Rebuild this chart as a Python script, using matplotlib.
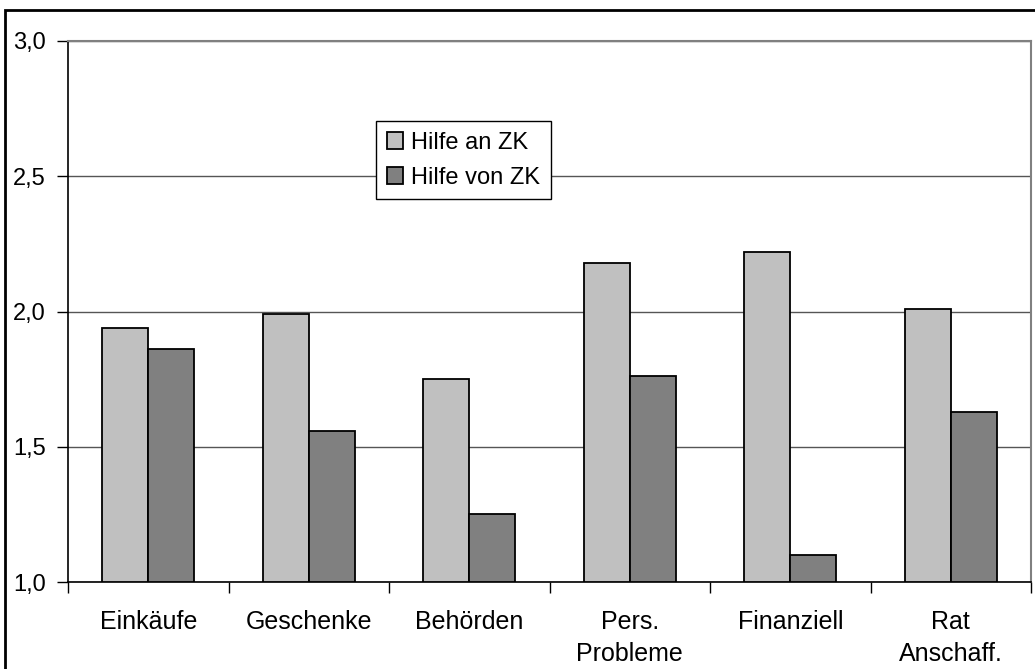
import numpy as np
import matplotlib.pyplot as plt
from matplotlib.patches import Rectangle

plt.rcParams['font.family'] = ['Liberation Sans', 'DejaVu Sans']

categories = ['Einkäufe', 'Geschenke', 'Behörden', 'Pers.\nProbleme', 'Finanziell', 'Rat\nAnschaff.']
hilfe_an = [1.94, 1.99, 1.75, 2.18, 2.22, 2.01]
hilfe_von = [1.86, 1.56, 1.25, 1.76, 1.10, 1.63]
y_ticks = [1.0, 1.5, 2.0, 2.5, 3.0]
y_labels = ['1,0', '1,5', '2,0', '2,5', '3,0']

fig = plt.figure(figsize=(10.35, 6.69), dpi=100)
# plot area in pixel terms: x 68..1031, y 41..582
ax = fig.add_axes([68 / 1035, 1 - 582 / 669, 963 / 1035, 541 / 669])

# outer frame of the chart (right/bottom run off the picture)
fig.patches.append(Rectangle((5 / 1035, -0.1), 1.2, 1 - 10 / 669 + 0.1,
                             transform=fig.transFigure, fill=False,
                             edgecolor='black', lw=2))

x = np.arange(len(categories))
w = 0.288
ax.bar(x - w / 2, np.array(hilfe_an) - 1, w, bottom=1, color='#c0c0c0',
       edgecolor='black', lw=1.3, label='Hilfe an ZK', zorder=3)
ax.bar(x + w / 2, np.array(hilfe_von) - 1, w, bottom=1, color='#808080',
       edgecolor='black', lw=1.3, label='Hilfe von ZK', zorder=3)

ax.set_xlim(-0.5, len(categories) - 0.5)
ax.set_ylim(1.0, 3.0)
ax.set_yticks(y_ticks)
ax.set_yticklabels(y_labels, fontsize=17)
ax.set_xticks(x)
ax.set_xticklabels(categories, fontsize=18, linespacing=1.42)
ax.set_xticks(np.arange(len(categories) + 1) - 0.5, minor=True)
ax.tick_params(axis='x', which='major', length=0, pad=20)
ax.tick_params(axis='x', which='minor', length=8, width=1, direction='out')
ax.tick_params(axis='y', length=8, width=1, direction='out', pad=8)

ax.grid(axis='y', color='#555555', lw=1, zorder=0)
ax.spines['top'].set_color('#808080')
ax.spines['right'].set_color('#808080')
ax.spines['top'].set_linewidth(1.5)
ax.spines['right'].set_linewidth(1.5)
for s in ['left', 'bottom']:
    ax.spines[s].set_linewidth(1.2)

leg = ax.legend(loc='upper left', bbox_to_anchor=((376 - 68) / 963, (582 - 121) / 541),
                fontsize=17, frameon=True, fancybox=False, framealpha=1,
                edgecolor='black', handlelength=0.7, handleheight=0.7,
                handletextpad=0.35, borderpad=0.45, labelspacing=0.55,
                borderaxespad=0)
leg.get_frame().set_linewidth(1)

fig.savefig('out.png', dpi=100)
